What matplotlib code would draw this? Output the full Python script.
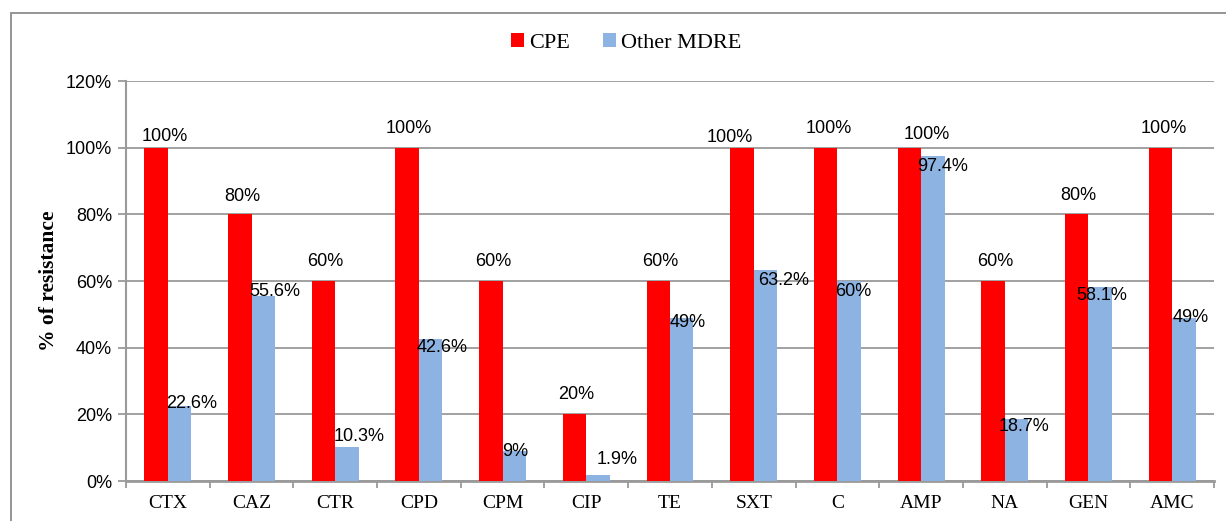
import matplotlib
matplotlib.use("Agg")
import matplotlib.pyplot as plt
from matplotlib.patches import Rectangle
from matplotlib.ticker import FuncFormatter, FixedLocator

categories = ["CTX", "CAZ", "CTR", "CPD", "CPM", "CIP", "TE", "SXT", "C", "AMP", "NA", "GEN", "AMC"]
cpe = [100, 80, 60, 100, 60, 20, 60, 100, 100, 100, 60, 80, 100]
other = [22.6, 55.6, 10.3, 42.6, 9, 1.9, 49, 63.2, 60, 97.4, 18.7, 58.1, 49]
cpe_labels = ["100%", "80%", "60%", "100%", "60%", "20%", "60%", "100%", "100%", "100%", "60%", "80%", "100%"]
other_labels = ["22.6%", "55.6%", "10.3%", "42.6%", "9%", "1.9%", "49%", "63.2%", "60%", "97.4%", "18.7%", "58.1%", "49%"]
yticks = [0, 20, 40, 60, 80, 100, 120]

# label nudges in pixels (dx, dy) - layout only
cpe_nudge = [(9, 11), (2, 18), (2, 19), (2, 19), (2, 19), (2, 20), (2, 19), (-12, 10), (3, 19), (17, 13), (2, 19), (2, 19), (3, 19)]
other_nudge = [(-2, 2), (-2, 4), (-2, 10), (-2, -9), (0, 0), (10, 15), (0, -5), (4, -10), (-2, -10), (-4, -10), (-6, -8), (-12, -8), (0, 0)]

RED = "#FF0000"
BLUE = "#8DB3E2"
GRID = "#9a9a9a"

fig = plt.figure(figsize=(12.26, 5.21), dpi=100)
ax = fig.add_axes([126 / 1226, 1 - 481 / 521, (1214 - 126) / 1226, 400 / 521])

# outer border
fig.patches.append(Rectangle((11 / 1226, -0.1), 1.5, (521 - 13) / 521 + 0.1, transform=fig.transFigure,
                             fill=False, edgecolor="#8c8c8c", linewidth=1.3))

w = 0.28
xs = list(range(len(categories)))
ax.bar([x - w / 2 for x in xs], cpe, width=w, color=RED, label="CPE", zorder=3)
ax.bar([x + w / 2 for x in xs], other, width=w, color=BLUE, label="Other MDRE", zorder=3)

ax.set_xlim(-0.5, len(categories) - 0.5)
ax.set_ylim(0, 120)
ax.set_yticks(yticks)
ax.yaxis.set_major_formatter(FuncFormatter(lambda v, p: f"{int(v)}%"))
ax.yaxis.grid(True, color=GRID, linewidth=1.3, zorder=0)
ax.set_axisbelow(True)

ax.set_xticks(xs)
ax.set_xticklabels(categories, family="Liberation Serif", fontsize=14)
ax.xaxis.set_minor_locator(FixedLocator([x - 0.5 for x in range(len(categories) + 1)]))
ax.tick_params(axis="x", which="major", length=0, pad=10)
ax.tick_params(axis="x", which="minor", length=5, width=1.3, color=GRID, direction="out")
ax.tick_params(axis="y", length=6, width=1.3, color=GRID, pad=4)
for lab in ax.get_yticklabels():
    lab.set_family("Liberation Sans")
    lab.set_fontsize(13)

for s in ["top", "right"]:
    ax.spines[s].set_visible(False)
ax.spines["left"].set_color(GRID)
ax.spines["left"].set_linewidth(1.5)
ax.spines["bottom"].set_color(GRID)
ax.spines["bottom"].set_linewidth(2)

ax.set_ylabel("% of resistance", family="Liberation Serif", fontweight="bold", fontsize=15.5, labelpad=5)

for i in xs:
    dx, dy = cpe_nudge[i]
    ax.annotate(cpe_labels[i], (i - w / 2, cpe[i]), xytext=(dx, dy), textcoords="offset pixels",
                ha="center", va="center", family="Liberation Sans", fontsize=13, zorder=5)
    dx, dy = other_nudge[i]
    ax.annotate(other_labels[i], (i, other[i]), xytext=(dx, dy), textcoords="offset pixels",
                ha="left", va="center", family="Liberation Sans", fontsize=13, zorder=5)

leg = fig.legend(loc="center", bbox_to_anchor=(626 / 1226, 1 - 43 / 521), ncol=2, frameon=False,
                 prop={"family": "Liberation Serif", "size": 16}, handlelength=0.6, handleheight=0.6,
                 handletextpad=0.2, columnspacing=1.5)

fig.savefig("out.png", dpi=100)
